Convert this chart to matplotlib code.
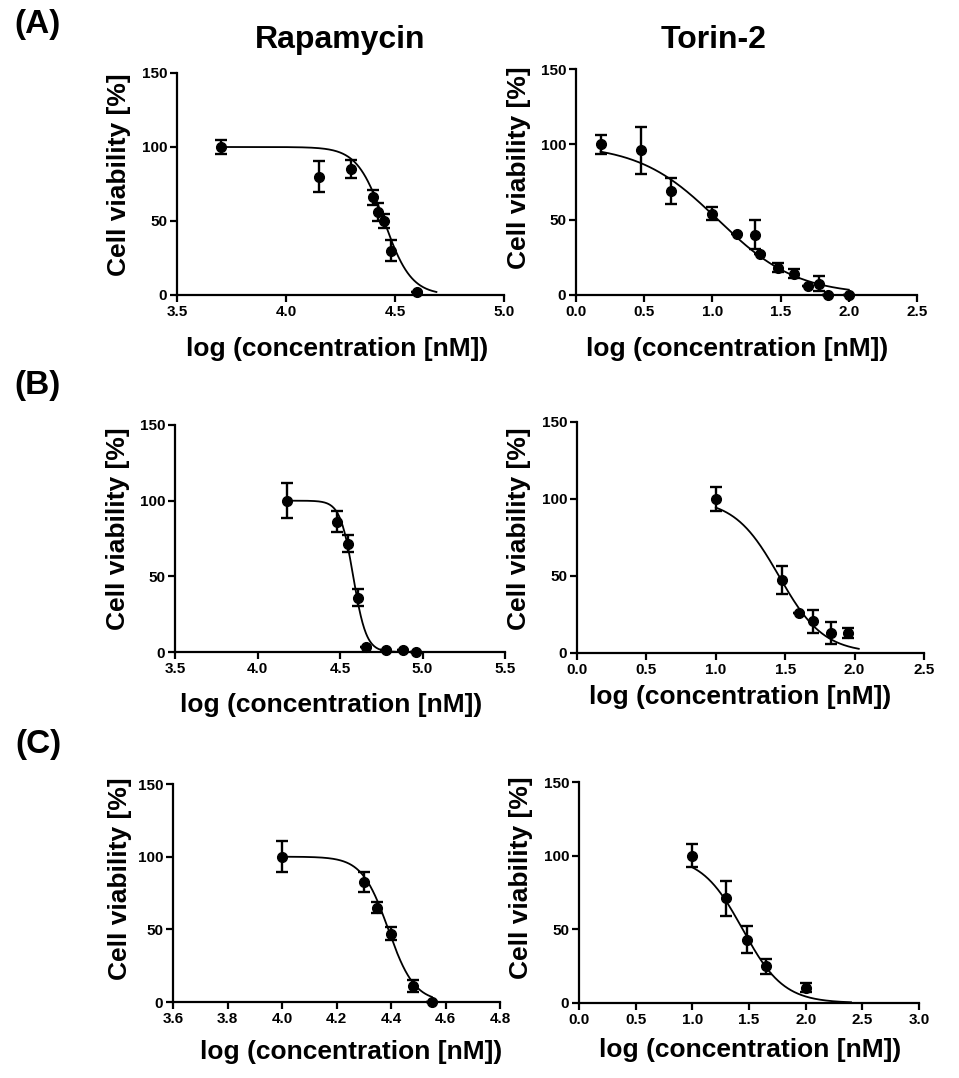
import numpy as np
import matplotlib.pyplot as plt

plt.rcParams['font.family'] = ['Liberation Sans', 'DejaVu Sans']

W, H = 959, 1078

# ---- data ----
# (A) Rapamycin
a_rapa_x = [3.70, 4.15, 4.30, 4.40, 4.42, 4.45, 4.48, 4.60]
a_rapa_y = [100, 80, 85, 66, 56, 50, 30, 2]
a_rapa_err = [4.5, 10.5, 6, 5, 6, 5, 7, 0]
# (A) Torin-2
a_torin_x = [0.18, 0.48, 0.70, 1.00, 1.18, 1.31, 1.35, 1.48, 1.60, 1.70, 1.78, 1.85, 2.00]
a_torin_y = [100, 96, 69, 54, 40.5, 40, 27, 18, 14, 6, 7.5, 0, 0]
a_torin_err = [6.5, 15.5, 8.5, 4.5, 0, 9.5, 0, 3, 3, 0, 5, 0, 0]
# (B) Rapamycin
b_rapa_x = [4.18, 4.48, 4.55, 4.61, 4.66, 4.78, 4.88, 4.96]
b_rapa_y = [100, 86, 71.5, 36, 3.5, 1.5, 1.5, 0]
b_rapa_err = [11.5, 7, 5.5, 5.5, 0, 0, 0, 0]
# (B) Torin-2
b_torin_x = [1.00, 1.48, 1.60, 1.70, 1.83, 1.95]
b_torin_y = [100, 47.5, 26, 20.5, 13, 13]
b_torin_err = [7.5, 9, 0, 7.5, 7, 3.5]
# (C) Rapamycin
c_rapa_x = [4.00, 4.30, 4.35, 4.40, 4.48, 4.55]
c_rapa_y = [100, 82.5, 65, 47, 11, 0]
c_rapa_err = [10.5, 7, 3.5, 4.5, 4, 0]
# (C) Torin-2
c_torin_x = [1.00, 1.30, 1.48, 1.65, 2.00]
c_torin_y = [100, 71, 43, 25, 10.5]
c_torin_err = [8, 12, 9, 5, 3]

# fitted dose-response curves: top, bottom, logIC50, hill slope, x from, x to
a_rapa_fit = [100, 0, 4.45, 7, 3.70, 4.69]
a_torin_fit = [100, 0, 1.04, 1.5, 0.18, 2.00]
b_rapa_fit = [100, 0, 4.58, 11, 4.18, 4.96]
b_torin_fit = [100, 0, 1.455, 2.7, 1.00, 2.03]
c_rapa_fit = [100, 0, 4.39, 9, 4.00, 4.55]
c_torin_fit = [100, 0, 1.444, 2.4, 1.00, 2.40]

# x axis ranges: min, max, step
a_rapa_xaxis = [3.5, 5.0, 0.5]
a_torin_xaxis = [0.0, 2.5, 0.5]
b_rapa_xaxis = [3.5, 5.5, 0.5]
b_torin_xaxis = [0.0, 2.5, 0.5]
c_rapa_xaxis = [3.6, 4.8, 0.2]
c_torin_xaxis = [0.0, 3.0, 0.5]
y_ticks = [0, 50, 100, 150]


def fx(x):
    return x / W


def fy(y):
    return 1 - y / H


def add_panel(fig, box, xs, ys, err, fit, xaxis):
    x0, y0, x1, y1 = box
    ax = fig.add_axes([fx(x0), fy(y1), (x1 - x0) / W, (y1 - y0) / H])
    top, bottom, ic50, hill, xa, xb = fit
    xc = np.linspace(xa, xb, 300)
    yc = bottom + (top - bottom) / (1 + 10 ** ((xc - ic50) * hill))
    ax.plot(xc, yc, color='black', lw=1.3, clip_on=False, zorder=2)
    ax.errorbar(xs, ys, yerr=err, fmt='o', color='black', ms=7, elinewidth=1.7,
                capsize=4.5, capthick=1.7, clip_on=False, zorder=3)
    xmin, xmax, step = xaxis
    ax.set_xlim(xmin, xmax)
    ax.set_ylim(0, 150)
    ax.set_xticks(np.round(np.arange(xmin, xmax + step / 2, step), 2))
    ax.xaxis.set_major_formatter(plt.FormatStrFormatter('%.1f'))
    ax.set_yticks(y_ticks)
    for s in ['top', 'right']:
        ax.spines[s].set_visible(False)
    for s in ['left', 'bottom']:
        ax.spines[s].set_linewidth(1.6)
    ax.tick_params(direction='out', length=5, width=1.6, labelsize=11, pad=2)
    for lab in ax.get_xticklabels() + ax.get_yticklabels():
        lab.set_fontweight('bold')
    ax.patch.set_alpha(0)
    return ax


fig = plt.figure(figsize=(W / 100, H / 100), dpi=100)

add_panel(fig, (177, 73, 504, 295), a_rapa_x, a_rapa_y, a_rapa_err, a_rapa_fit, a_rapa_xaxis)
add_panel(fig, (576, 69, 917, 295), a_torin_x, a_torin_y, a_torin_err, a_torin_fit, a_torin_xaxis)
add_panel(fig, (175, 425, 505, 652), b_rapa_x, b_rapa_y, b_rapa_err, b_rapa_fit, b_rapa_xaxis)
add_panel(fig, (577, 422, 924, 653), b_torin_x, b_torin_y, b_torin_err, b_torin_fit, b_torin_xaxis)
add_panel(fig, (173, 784, 500, 1002), c_rapa_x, c_rapa_y, c_rapa_err, c_rapa_fit, c_rapa_xaxis)
add_panel(fig, (579, 782, 919, 1003), c_torin_x, c_torin_y, c_torin_err, c_torin_fit, c_torin_xaxis)

# axis labels
ylab = 'Cell viability [%]'
xlab = 'log (concentration [nM])'
for (x, y) in [(119, 175), (519, 168), (118, 529), (519, 529), (120, 879), (521, 878)]:
    fig.text(fx(x), fy(y), ylab, rotation=90, ha='center', va='center',
             fontsize=19, fontweight='bold')
for (x, y) in [(337, 349), (737, 349), (331, 705), (740, 697), (351, 1052), (750, 1050)]:
    fig.text(fx(x), fy(y), xlab, ha='center', va='center',
             fontsize=19, fontweight='bold')

# titles and panel letters
fig.text(fx(340), fy(40), 'Rapamycin', ha='center', va='center', fontsize=23, fontweight='bold')
fig.text(fx(714), fy(40), 'Torin-2', ha='center', va='center', fontsize=23, fontweight='bold')
for (lab, y) in [('(A)', 25), ('(B)', 385), ('(C)', 744)]:
    fig.text(fx(38), fy(y), lab, ha='center', va='center', fontsize=24, fontweight='bold')

fig.savefig('out.png', dpi=100)
